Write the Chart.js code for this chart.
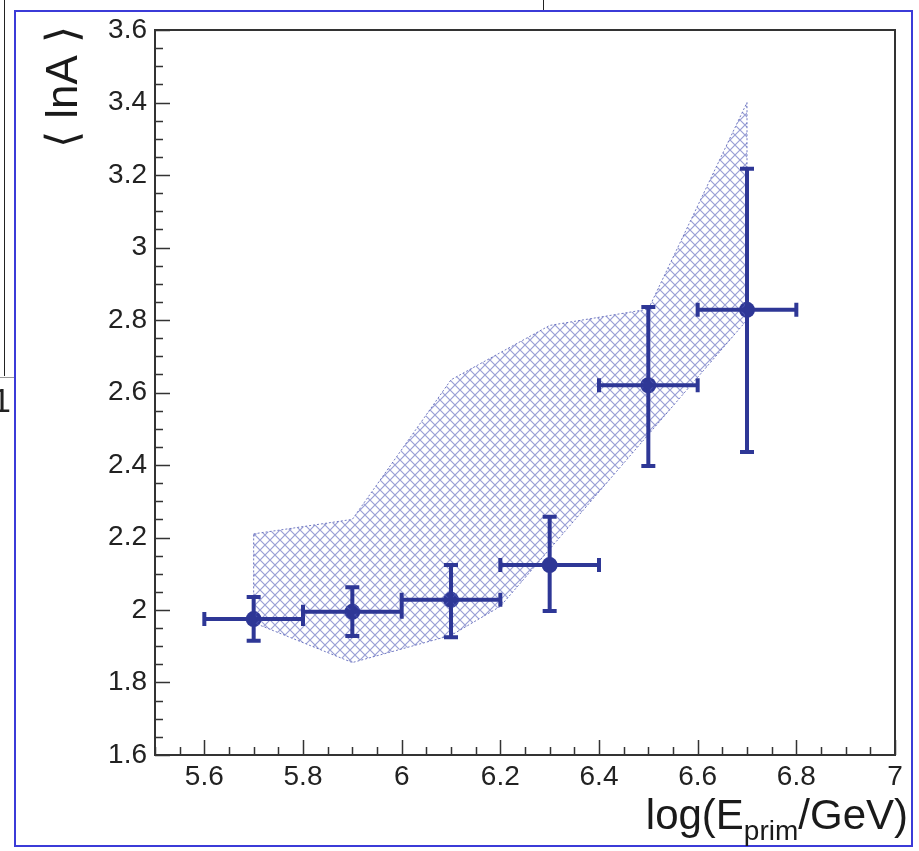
<!DOCTYPE html>
<html>
<head>
<meta charset="utf-8">
<script src="https://cdn.jsdelivr.net/npm/chart.js@4.4.1/dist/chart.umd.min.js"></script>
<style>
  html, body { margin: 0; padding: 0; background: #fff; }
  canvas { display: block; }
</style>
</head>
<body>
<canvas id="c" width="919" height="851"></canvas>
<script>
// ---- data ----
const xTicks = [5.6, 5.8, 6, 6.2, 6.4, 6.6, 6.8, 7];
const yTicks = [1.6, 1.8, 2, 2.2, 2.4, 2.6, 2.8, 3, 3.2, 3.4, 3.6];

// measured points (bin centres) with asymmetric errors
const ptX = [5.7, 5.9, 6.1, 6.3, 6.5, 6.7];
const ptY = [1.975, 1.995, 2.028, 2.124, 2.62, 2.828];
const ptXErr = [0.1, 0.1, 0.1, 0.1, 0.1, 0.1];
const ptYLow = [1.915, 1.928, 1.925, 1.997, 2.397, 2.436];
const ptYHigh = [2.036, 2.063, 2.124, 2.257, 2.836, 3.217];

// hatched band (systematic range)
const bandUpX = [5.7, 5.9, 6.1, 6.3, 6.5, 6.7];
const bandUpY = [2.21, 2.25, 2.635, 2.785, 2.83, 3.40];
const bandLowX = [5.7, 5.9, 6.1, 6.2, 6.7];
const bandLowY = [1.965, 1.855, 1.93, 2.01, 2.80];

const MARK = '#2e3796';
const AXIS = '#333';
const FONT = '"Liberation Sans", Arial, sans-serif';

const ctx = document.getElementById('c').getContext('2d');

function hatchPattern() {
  const t = document.createElement('canvas');
  t.width = t.height = 10;
  const g = t.getContext('2d');
  g.strokeStyle = 'rgba(85,95,185,0.6)';
  g.lineWidth = 1.2;
  g.beginPath();
  g.moveTo(0, 0); g.lineTo(10, 10);
  g.moveTo(10, 0); g.lineTo(0, 10);
  g.stroke();
  return ctx.createPattern(t, 'repeat');
}

// closed polygon: upper edge left->right, lower edge right->left
const bandPts = bandUpX.map((x, i) => ({ x, y: bandUpY[i] }));
for (let i = bandLowX.length - 1; i >= 0; i--) bandPts.push({ x: bandLowX[i], y: bandLowY[i] });
bandPts.push({ x: bandUpX[0], y: bandUpY[0] });

const fmt = (v) => String(Math.round(v * 10) / 10);

// ---- page decorations (frame, pieces of neighbouring plot) ----
const pagePlugin = {
  id: 'page',
  beforeDraw(chart) {
    const c = chart.ctx;
    c.save();
    c.fillStyle = '#fff';
    c.fillRect(0, 0, chart.width, chart.height);
    // bits of the neighbouring figure
    c.strokeStyle = '#222';
    c.lineWidth = 1;
    c.beginPath();
    c.moveTo(543.5, 0); c.lineTo(543.5, 10);
    c.moveTo(4.5, 0); c.lineTo(4.5, 376);
    c.stroke();
    c.strokeStyle = '#999';
    c.beginPath();
    c.moveTo(0, 377.5); c.lineTo(14, 377.5);
    c.stroke();
    c.fillStyle = '#222';
    c.font = '34px ' + FONT;
    c.fillText('1', -8, 412);
    // blue outer frame
    c.strokeStyle = '#3b3bd8';
    c.lineWidth = 2;
    c.strokeRect(15, 11, 897, 835);
    c.restore();
  },
};

// ---- ROOT-style frame with inward ticks ----
const axesPlugin = {
  id: 'rootAxes',
  afterDatasetsDraw(chart) {
    const c = chart.ctx;
    const { left, right, top, bottom } = chart.chartArea;
    const xs = chart.scales.x, ys = chart.scales.y;
    c.save();
    c.strokeStyle = AXIS;
    c.lineWidth = 2;
    c.strokeRect(left, top, right - left, bottom - top);
    c.lineWidth = 1.5;
    c.beginPath();
    for (let v = xs.min; v <= xs.max + 1e-9; v += 0.05) {
      const px = Math.round(xs.getPixelForValue(v)) + 0.5;
      const major = xTicks.some(t => Math.abs(t - v) < 1e-6);
      c.moveTo(px, bottom);
      c.lineTo(px, bottom - (major ? 15 : 8));
    }
    for (let v = ys.min; v <= ys.max + 1e-9; v += 0.05) {
      const py = Math.round(ys.getPixelForValue(v)) + 0.5;
      const major = yTicks.some(t => Math.abs(t - v) < 1e-6);
      c.moveTo(left, py);
      c.lineTo(left + (major ? 15 : 8), py);
    }
    c.stroke();

    // error bars
    c.strokeStyle = MARK;
    c.lineWidth = 4;
    c.beginPath();
    ptX.forEach((x, i) => {
      const px = xs.getPixelForValue(x);
      const py = ys.getPixelForValue(ptY[i]);
      const x0 = xs.getPixelForValue(x - ptXErr[i]);
      const x1 = xs.getPixelForValue(x + ptXErr[i]);
      const y0 = ys.getPixelForValue(ptYLow[i]);
      const y1 = ys.getPixelForValue(ptYHigh[i]);
      const cap = 7;
      c.moveTo(x0, py); c.lineTo(x1, py);
      c.moveTo(x0, py - cap); c.lineTo(x0, py + cap);
      c.moveTo(x1, py - cap); c.lineTo(x1, py + cap);
      c.moveTo(px, y0); c.lineTo(px, y1);
      c.moveTo(px - cap, y0); c.lineTo(px + cap, y0);
      c.moveTo(px - cap, y1); c.lineTo(px + cap, y1);
    });
    c.stroke();
    c.restore();
  },
  afterDraw(chart) {
    const c = chart.ctx;
    c.save();
    c.fillStyle = '#1a1a1a';
    // x title: log(E_prim/GeV), right aligned
    const big = '42px ' + FONT, small = '28px ' + FONT;
    c.font = big;
    const w1 = c.measureText('log(E').width;
    const w3 = c.measureText('/GeV)').width;
    c.font = small;
    const w2 = c.measureText('prim').width;
    let x = 908 - (w1 + w2 + w3);
    const base = 829;
    c.textBaseline = 'alphabetic';
    c.font = big; c.fillText('log(E', x, base); x += w1;
    c.font = small; c.fillText('prim', x, base + 11); x += w2;
    c.font = big; c.fillText('/GeV)', x, base);
    // y title
    c.translate(77, 87);
    c.rotate(-Math.PI / 2);
    c.textAlign = 'center';
    c.font = '44px ' + FONT;
    c.fillText('\u27E8 lnA \u27E9', 0, 0);
    c.restore();
  },
};

new Chart(ctx, {
  type: 'line',
  data: {
    datasets: [
      {
        label: 'band',
        data: bandPts,
        borderColor: 'rgba(80,90,180,0.8)',
        borderWidth: 1,
        borderDash: [2, 2],
        backgroundColor: hatchPattern(),
        fill: 'shape',
        pointRadius: 0,
        tension: 0,
      },
      {
        label: 'lnA',
        data: ptX.map((x, i) => ({ x, y: ptY[i] })),
        showLine: false,
        pointRadius: 8,
        pointBackgroundColor: MARK,
        pointBorderWidth: 0,
      },
    ],
  },
  options: {
    responsive: false,
    animation: false,
    layout: { padding: { top: 30, right: 24, left: 0, bottom: 0 } },
    plugins: { legend: { display: false }, tooltip: { enabled: false } },
    scales: {
      x: {
        type: 'linear',
        min: 5.5,
        max: 7,
        afterBuildTicks: (s) => { s.ticks = xTicks.map(v => ({ value: v })); },
        afterFit: (s) => { s.height = 96; },
        grid: { display: false, drawTicks: false },
        border: { display: false },
        ticks: {
          autoSkip: false,
          maxRotation: 0,
          padding: 5,
          color: '#222',
          font: { family: FONT, size: 28 },
          callback: fmt,
        },
      },
      y: {
        type: 'linear',
        min: 1.6,
        max: 3.6,
        afterBuildTicks: (s) => { s.ticks = yTicks.map(v => ({ value: v })); },
        afterFit: (s) => { s.width = 155; },
        grid: { display: false, drawTicks: false },
        border: { display: false },
        ticks: {
          autoSkip: false,
          padding: 8,
          color: '#222',
          font: { family: FONT, size: 28 },
          callback: fmt,
        },
      },
    },
  },
  plugins: [pagePlugin, axesPlugin],
});
</script>
</body>
</html>
